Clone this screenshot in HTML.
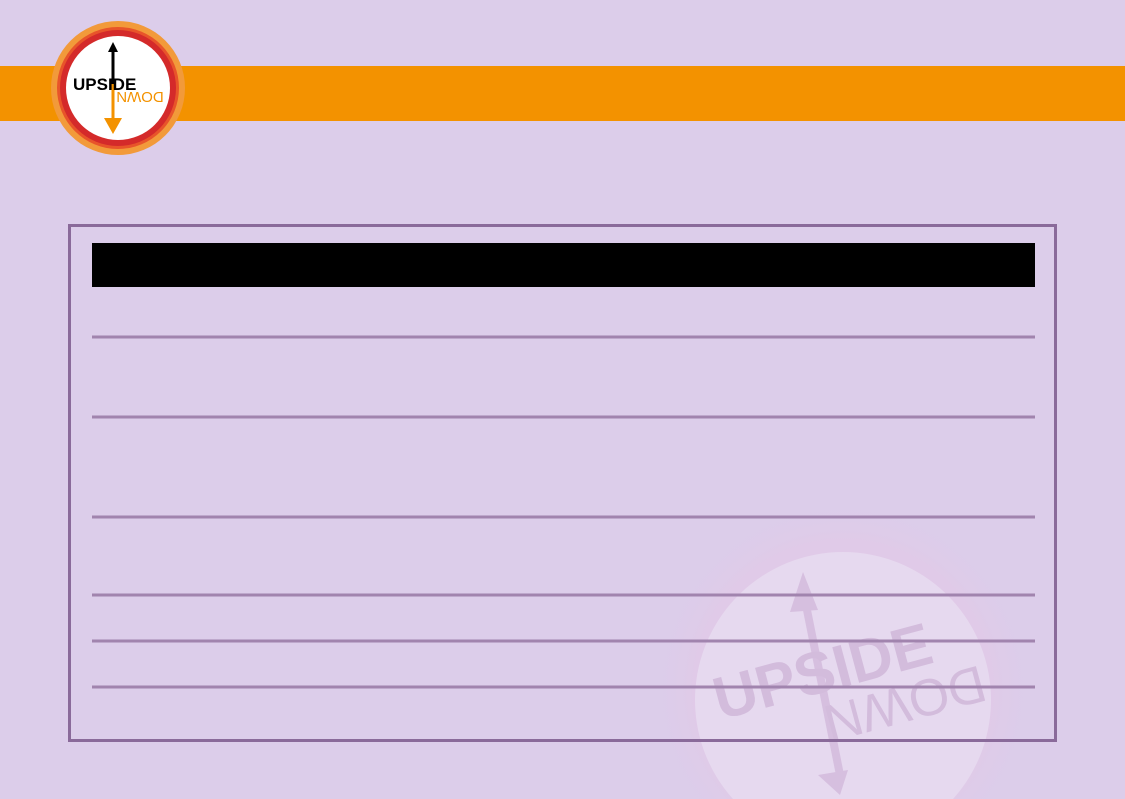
<!DOCTYPE html>
<html><head><meta charset="utf-8">
<style>
html,body{margin:0;padding:0;overflow:hidden}
body{width:1125px;height:799px;background:#dccdea;position:relative;overflow:hidden;font-family:"Liberation Sans",sans-serif}
svg{display:block;position:absolute;left:0;top:0}
</style></head>
<body>
<svg width="1125" height="799" overflow="hidden">
  <defs>
    <radialGradient id="wm" gradientUnits="userSpaceOnUse" cx="843" cy="690" r="195">
      <stop offset="0.75" stop-color="#e3c8e6" stop-opacity="0.6"/>
      <stop offset="1" stop-color="#dccdea" stop-opacity="0"/>
    </radialGradient>
  </defs>
  <g>
    <path d="M681,799 A195,195 0 1 1 1005,799 Z" fill="url(#wm)"/>
    <path d="M733,799 A148,148 0 1 1 953,799 Z" fill="#e6d9ef"/>
    <polygon points="803,572 790,612 818,610" fill="#d6bfdf"/>
    <line x1="806" y1="605" x2="840" y2="775" stroke="#d6bfdf" stroke-width="8"/>
    <polygon points="818,775 848,770 840,795" fill="#d6bfdf"/>
    <text x="720" y="720" font-size="60" font-weight="bold" fill="#d3bcdc" transform="rotate(-15 720 720)">UPSIDE</text>
    <text x="980" y="665" font-size="52" fill="#d3bcdc" transform="rotate(165 980 665)">DOWN</text>
  </g>
  <rect x="0" y="66" width="1125" height="55" fill="#f39200"/>
  <g>
    <circle cx="118" cy="88" r="67" fill="#f29a3a"/>
    <circle cx="118" cy="88" r="61" fill="#e8542a"/>
    <circle cx="118" cy="88" r="58" fill="#d42a2a"/>
    <circle cx="118" cy="88" r="52" fill="#ffffff"/>
    <polygon points="113,42 108,52 118,52" fill="#000"/>
    <line x1="113" y1="50" x2="113" y2="84" stroke="#000" stroke-width="3"/>
    <line x1="113" y1="84" x2="113" y2="120" stroke="#f39200" stroke-width="3"/>
    <polygon points="104,118 122,118 113,134" fill="#f39200"/>
    <text x="73" y="90" font-size="17" font-weight="900" fill="#000">UPSIDE</text>
    <text x="140" y="100" font-size="15" fill="#f39200" text-anchor="middle" transform="rotate(180 140 96)">DOWN</text>
  </g>
  <rect x="69.5" y="225.5" width="986" height="515" fill="none" stroke="#8a6a9a" stroke-width="3"/>
  <rect x="92" y="243" width="943" height="44" fill="#000"/>
  <g stroke="#a184ae" stroke-width="3">
    <line x1="92" x2="1035" y1="337" y2="337"/>
    <line x1="92" x2="1035" y1="417" y2="417"/>
    <line x1="92" x2="1035" y1="517" y2="517"/>
    <line x1="92" x2="1035" y1="595" y2="595"/>
    <line x1="92" x2="1035" y1="641" y2="641"/>
    <line x1="92" x2="1035" y1="687" y2="687"/>
  </g>
</svg>
</body></html>
